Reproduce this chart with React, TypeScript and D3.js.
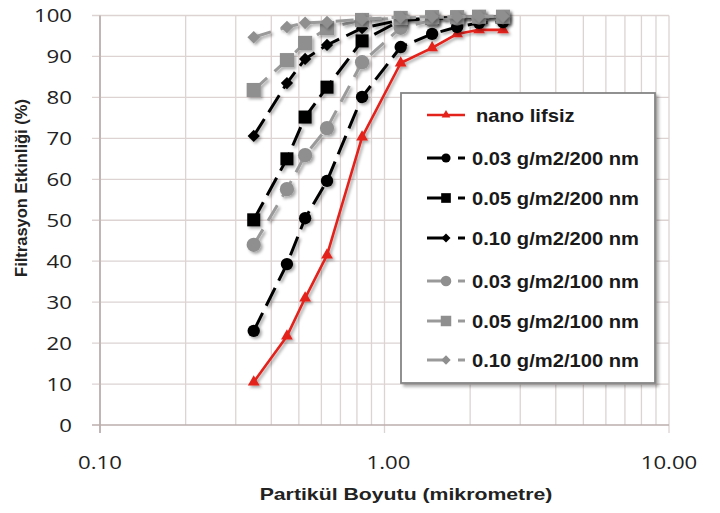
import React from "react";
import * as d3 from "d3";

const sizes = [0.347, 0.454, 0.526, 0.628, 0.834, 1.14, 1.47, 1.8, 2.15, 2.61];
const nanoLifsiz = [10.5, 21.7, 31.0, 41.5, 70.3, 88.4, 92.1, 95.5, 96.5, 96.5];
const g003nm200 = [23.0, 39.3, 50.5, 59.6, 80.1, 92.3, 95.5, 97.2, 98.2, 98.4];
const g005nm200 = [50.1, 65.0, 75.2, 82.5, 93.8, 98.8, 99.3, 99.5, 99.6, 99.7];
const g010nm200 = [70.6, 83.5, 89.4, 92.8, 96.9, 98.9, 99.3, 99.5, 99.6, 99.7];
const g003nm100 = [44.0, 57.6, 65.9, 72.5, 88.6, 97.0, 98.8, 99.3, 99.5, 99.6];
const g005nm100 = [81.8, 89.1, 93.3, 96.9, 98.9, 99.4, 99.6, 99.6, 99.7, 99.7];
const g010nm100 = [94.7, 97.2, 98.2, 98.4, 99.1, 99.6, 99.7, 99.7, 99.8, 99.8];

const seriesNames = [
  "nano lifsiz",
  "0.03 g/m2/200 nm",
  "0.05 g/m2/200 nm",
  "0.10 g/m2/200 nm",
  "0.03 g/m2/100 nm",
  "0.05 g/m2/100 nm",
  "0.10 g/m2/100 nm",
];
const seriesValues = [nanoLifsiz, g003nm200, g005nm200, g010nm200, g003nm100, g005nm100, g010nm100];

const yTicks = [0, 10, 20, 30, 40, 50, 60, 70, 80, 90, 100];
const xTicks = [0.1, 1, 10];
const xTickLabels = ["0.10", "1.00", "10.00"];

type Style = { color: string; lineColor: string; dash: string | null; marker: string; size: number; width: number };
const styles: Style[] = [
  { color: "#e3221c", lineColor: "#e3221c", dash: null, marker: "triangle", size: 60, width: 2.6 },
  { color: "#000", lineColor: "#000", dash: "20,8", marker: "circle", size: 120, width: 3 },
  { color: "#000", lineColor: "#000", dash: "20,8", marker: "square", size: 170, width: 3 },
  { color: "#000", lineColor: "#000", dash: "20,8", marker: "diamond", size: 75, width: 3 },
  { color: "#8f8f8f", lineColor: "#9a9a9a", dash: "18,10", marker: "circle", size: 160, width: 3 },
  { color: "#8f8f8f", lineColor: "#9a9a9a", dash: "18,10", marker: "square", size: 200, width: 3 },
  { color: "#8f8f8f", lineColor: "#9a9a9a", dash: "18,10", marker: "diamond", size: 80, width: 3 },
];

function markerPath(kind: string, size: number): { d: string; rot: number } {
  if (kind === "triangle") return { d: d3.symbol(d3.symbolTriangle, size)() as string, rot: 0 };
  if (kind === "circle") return { d: d3.symbol(d3.symbolCircle, size)() as string, rot: 0 };
  if (kind === "square") return { d: d3.symbol(d3.symbolSquare, size)() as string, rot: 0 };
  return { d: d3.symbol(d3.symbolSquare, size)() as string, rot: 45 };
}

export default function App() {
  const W = 720, H = 513;
  const x = d3.scaleLog().domain([0.1, 10]).range([100, 669]);
  const y = d3.scaleLinear().domain([0, 100]).range([425, 15.5]);
  const minor: number[] = [];
  for (const dec of [0.1, 1]) for (let k = 2; k <= 9; k++) minor.push(dec * k);
  const grid = "#ddd3d3";
  const axisC = "#bcaeae";
  const line = d3.line<number>().x((_, i) => x(sizes[i])).y((v) => y(v));

  const legX = 401, legY = 93, legW = 254, legH = 290;
  const legRows = [115, 158, 198, 238, 281, 321, 360];

  return (
    <svg width={W} height={H} style={{ position: "absolute", left: 0, top: 0, background: "#fff" }}>
      <defs>
        <filter id="sh" x="-20%" y="-20%" width="140%" height="140%">
          <feDropShadow dx="2" dy="2" stdDeviation="1.4" floodColor="#000" floodOpacity="0.35" />
        </filter>
        <filter id="lsh" x="-10%" y="-10%" width="120%" height="120%">
          <feDropShadow dx="3" dy="3" stdDeviation="1.5" floodColor="#000" floodOpacity="0.3" />
        </filter>
      </defs>
      <rect x={0} y={0} width={W} height={H} fill="#fff" />
      {minor.map((m) => (
        <line key={"m" + m} x1={x(m)} x2={x(m)} y1={y(0)} y2={y(100)} stroke={grid} strokeWidth={1.3} />
      ))}
      {xTicks.map((t) => (
        <line key={"xt" + t} x1={x(t)} x2={x(t)} y1={y(100)} y2={y(0) + 8} stroke={t === 0.1 ? axisC : grid} strokeWidth={1.3} />
      ))}
      {yTicks.map((t) => (
        <line key={"yg" + t} x1={x(0.1) - 8} x2={x(10)} y1={y(t)} y2={y(t)} stroke={t === 0 ? axisC : grid} strokeWidth={t === 0 ? 1.6 : 1.3} />
      ))}
      <line x1={x(0.1)} x2={x(0.1)} y1={y(100)} y2={y(0) + 8} stroke={axisC} strokeWidth={1.5} />
      {yTicks.map((t) => (
        <text key={"yl" + t} transform={`translate(72,${y(t) + 6.5}) scale(1.2,1)`} textAnchor="end"
          fontFamily="'Open Sans', sans-serif" fontSize={18.5} fill="#222">{t}</text>
      ))}
      {xTicks.map((t, i) => (
        <text key={"xl" + t} transform={`translate(${x(t) + (i === 1 ? 4 : 0)},${469}) scale(1.2,1)`} textAnchor="middle"
          fontFamily="'Open Sans', sans-serif" fontSize={18.5} fill="#222">{xTickLabels[i]}</text>
      ))}
      <text transform="translate(406,500) scale(1.25,1)" textAnchor="middle" fontFamily="'Liberation Sans', Arial, sans-serif"
        fontWeight="bold" fontSize={17} fill="#222">Partikül Boyutu (mikrometre)</text>
      <text transform="translate(27,188) rotate(-90)" textAnchor="middle" fontFamily="'Liberation Sans', Arial, sans-serif"
        fontWeight="bold" fontSize={16.5} fill="#222">Filtrasyon Etkinliği (%)</text>
      {seriesValues.map((vals, si) => {
        const st = styles[si];
        const mk = markerPath(st.marker, st.size);
        return (
          <g key={"s" + si} filter="url(#sh)">
            <path d={line(vals) as string} fill="none" stroke={st.lineColor} strokeWidth={st.width}
              strokeDasharray={st.dash ?? undefined} strokeLinejoin="round" />
            {vals.map((v, i) => (
              <path key={i} d={mk.d} transform={`translate(${x(sizes[i])},${y(v)}) rotate(${mk.rot})`} fill={st.color} />
            ))}
          </g>
        );
      })}
      <rect x={legX} y={legY} width={legW} height={legH} fill="#fff" stroke="#858585" strokeWidth={1.8} filter="url(#lsh)" />
      {seriesNames.map((name, si) => {
        const st = styles[si];
        const mk = markerPath(st.marker, st.size * 0.55);
        const ry = legRows[si];
        return (
          <g key={"l" + si}>
            {st.dash ? (
              <>
                <line x1={427} x2={444} y1={ry} y2={ry} stroke={st.lineColor} strokeWidth={st.width} />
                <line x1={458} x2={465} y1={ry} y2={ry} stroke={st.lineColor} strokeWidth={st.width} />
              </>
            ) : (
              <line x1={427} x2={465} y1={ry} y2={ry} stroke={st.lineColor} strokeWidth={st.width} />
            )}
            <path d={mk.d} transform={`translate(446,${ry}) rotate(${mk.rot})`} fill={st.color} />
            <text transform={`translate(${si === 0 ? 476 : 472},${ry + 6.5}) scale(1.12,1)`} fontFamily="'Liberation Sans', Arial, sans-serif"
              fontWeight="bold" fontSize={18} fill="#1a1a1a">{name}</text>
          </g>
        );
      })}
    </svg>
  );
}
